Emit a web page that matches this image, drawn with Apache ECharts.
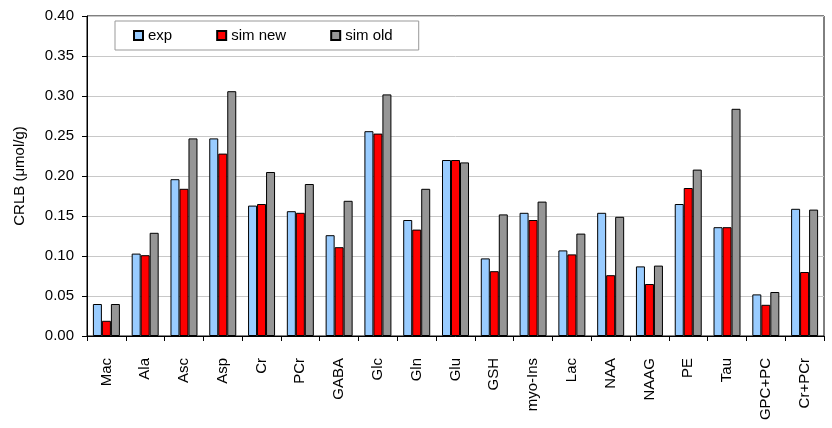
<!DOCTYPE html>
<html>
<head>
<meta charset="utf-8">
<script src="https://cdn.jsdelivr.net/npm/echarts@6/dist/echarts.min.js"></script>
<style>
	html, body { margin: 0; padding: 0; background: #fff; }
	#chart { width: 832px; height: 428px; }
</style>
</head>
<body>
<div id="chart"></div>
<script>
	// metabolites
	var categories = ['Mac', 'Ala', 'Asc', 'Asp', 'Cr', 'PCr', 'GABA', 'Glc', 'Gln', 'Glu', 'GSH', 'myo-Ins', 'Lac', 'NAA', 'NAAG', 'PE', 'Tau', 'GPC+PC', 'Cr+PCr']
	var expList = [0.040, 0.103, 0.196, 0.247, 0.163, 0.156, 0.126, 0.256, 0.145, 0.220, 0.097, 0.154, 0.107, 0.154, 0.087, 0.165, 0.136, 0.052, 0.159]
	var simNewList = [0.019, 0.101, 0.184, 0.228, 0.165, 0.154, 0.111, 0.253, 0.133, 0.220, 0.081, 0.145, 0.102, 0.076, 0.065, 0.185, 0.136, 0.039, 0.080]
	var simOldList = [0.040, 0.129, 0.247, 0.306, 0.205, 0.190, 0.169, 0.302, 0.184, 0.217, 0.152, 0.168, 0.128, 0.149, 0.088, 0.208, 0.284, 0.055, 0.158]

	var font = 'Liberation Sans, Arial, sans-serif'
	var chart = echarts.init(document.getElementById('chart'))

	function barSeries(name, data, color) {
		return {
			name: name,
			type: 'bar',
			data: data,
			barWidth: 9,
			barGap: '0%',
			itemStyle: {
				color: color,
				borderColor: '#000',
				borderWidth: 1
			}
		}
	}

	var option = {
		animation: false,
		grid: {
			left: 87,
			right: 8,
			top: 16,
			bottom: 92,
			show: true,
			borderColor: '#000',
			borderWidth: 1
		},
		legend: {
			left: 115,
			top: 21,
			padding: [7, 26, 7, 18],
			itemGap: 44,
			itemWidth: 9,
			itemHeight: 9,
			icon: 'rect',
			borderColor: '#999',
			borderWidth: 1,
			backgroundColor: '#fff',
			textStyle: { fontFamily: font, fontSize: 15, color: '#000' },
			data: ['exp', 'sim new', 'sim old']
		},
		xAxis: {
			type: 'category',
			data: categories,
			axisLine: { lineStyle: { color: '#000' } },
			axisTick: { show: true, length: 5, lineStyle: { color: '#000' } },
			axisLabel: {
				rotate: 90,
				margin: 22,
				interval: 0,
				fontFamily: font,
				fontSize: 15,
				color: '#000'
			}
		},
		yAxis: {
			type: 'value',
			min: 0,
			max: 0.4,
			interval: 0.05,
			name: 'CRLB (μmol/g)',
			nameLocation: 'middle',
			nameGap: 60,
			nameTextStyle: { fontFamily: font, fontSize: 15, color: '#000' },
			axisLine: { show: true, lineStyle: { color: '#000' } },
			axisTick: { show: true, length: 5, lineStyle: { color: '#000' } },
			axisLabel: {
				fontFamily: font,
				fontSize: 15,
				color: '#000',
				margin: 13,
				formatter: function (v) { return v.toFixed(2) }
			},
			splitLine: { show: true, lineStyle: { color: '#c8c8c8', width: 1 } }
		},
		series: [
			barSeries('exp', expList, '#99ccff'),
			barSeries('sim new', simNewList, '#ff0000'),
			barSeries('sim old', simOldList, '#969696')
		]
	}
	chart.setOption(option)
</script>
</body>
</html>
